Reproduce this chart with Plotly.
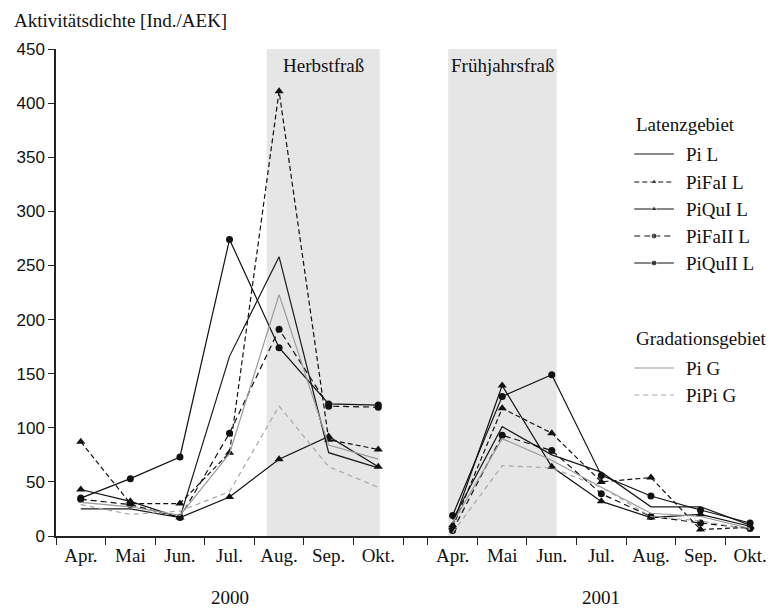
import plotly.graph_objects as go

# Monthly activity density, two seasons
months = ["Apr.", "Mai", "Jun.", "Jul.", "Aug.", "Sep.", "Okt."]
years = ["2000", "2001"]

pi_l_2000 = [25, 25, 17, 166, 258, 77, 63]
pifai_l_2000 = [87, 30, 30, 77, 411, 89, 80]
piqui_l_2000 = [43, 32, 17, 36, 71, 92, 64]
pifaii_l_2000 = [34, 29, 17, 95, 191, 120, 119]
piquii_l_2000 = [35, 53, 73, 274, 174, 122, 121]
pi_g_2000 = [31, 27, 19, 76, 223, 84, 71]
pipi_g_2000 = [29, 20, 23, 41, 120, 64, 45]

pi_l_2001 = [15, 101, 75, 59, 27, 27, 10]
pifai_l_2001 = [8, 118, 95, 50, 54, 6, 8]
piqui_l_2001 = [10, 139, 64, 32, 17, 20, 9]
pifaii_l_2001 = [5, 93, 79, 39, 18, 12, 7]
piquii_l_2001 = [19, 129, 149, 56, 37, 24, 12]
pi_g_2001 = [12, 90, 70, 45, 21, 18, 7]
pipi_g_2001 = [3, 65, 63, 45, 18, 14, 6]

series = [
    # name, 2000, 2001, color, dash, marker
    ("Pi L", pi_l_2000, pi_l_2001, "#1a1a1a", "solid", None),
    ("PiFaI L", pifai_l_2000, pifai_l_2001, "#111111", "5px,3px", "triangle-up"),
    ("PiQuI L", piqui_l_2000, piqui_l_2001, "#111111", "solid", "triangle-up"),
    ("PiFaII L", pifaii_l_2000, pifaii_l_2001, "#111111", "6px,4px", "circle"),
    ("PiQuII L", piquii_l_2000, piquii_l_2001, "#111111", "solid", "circle"),
    ("Pi G", pi_g_2000, pi_g_2001, "#9a9a9a", "solid", None),
    ("PiPi G", pipi_g_2000, pipi_g_2001, "#a8a8a8", "5px,4px", None),
]

SERIF = "Liberation Serif, Times New Roman, serif"
SANS = "Liberation Sans, Arial, sans-serif"

# category slots: 2000 at 0..6, 2001 shifted right after a gap
offset_2001 = 7.5
x2000 = list(range(len(months)))
x2001 = [i + offset_2001 for i in range(len(months))]
xrange_ = [-0.5, 13.7]

fig = go.Figure()

# shaded feeding periods
fig.add_shape(type="rect", xref="x", yref="y", x0=3.75, x1=6.03, y0=0, y1=453,
              fillcolor="#e6e6e6", line_width=0, layer="below")
fig.add_shape(type="rect", xref="x", yref="y", x0=7.41, x1=9.6, y0=0, y1=453,
              fillcolor="#e6e6e6", line_width=0, layer="below")

for name, v0, v1, color, dash, sym in series:
    for xs, ys in ((x2000, v0), (x2001, v1)):
        fig.add_trace(go.Scatter(
            x=xs, y=ys, mode="lines+markers" if sym else "lines",
            line=dict(color=color, width=1.2, dash=dash),
            marker=dict(symbol=sym or "circle", size=7 if sym == "circle" else 8,
                        color=color),
            showlegend=False, name=name, hoverinfo="skip"))

# legend drawn on a pixel-scaled overlay axis
legend_rows = [
    ("head", "Latenzgebiet", 124),
    ("item", 0, 154), ("item", 1, 182), ("item", 2, 209),
    ("item", 3, 236), ("item", 4, 263),
    ("head", "Gradationsgebiet", 338),
    ("item", 5, 368), ("item", 6, 395),
]
annotations = []
for kind, ref, ypix in legend_rows:
    if kind == "head":
        annotations.append(dict(xref="x2", yref="y2", x=640, y=ypix, text=ref,
                                showarrow=False, xanchor="left", yanchor="middle",
                                font=dict(family=SERIF, size=19, color="#111")))
    else:
        name, _, _, color, dash, sym = series[ref]
        fig.add_trace(go.Scatter(
            x=[640, 660, 680], y=[ypix] * 3, xaxis="x2", yaxis="y2",
            mode="lines+markers" if sym else "lines",
            line=dict(color=color, width=1.2, dash=dash),
            marker=dict(symbol=sym or "circle", size=[0, 6, 0], color=color),
            showlegend=False, hoverinfo="skip"))
        annotations.append(dict(xref="x2", yref="y2", x=690, y=ypix, text=name,
                                showarrow=False, xanchor="left", yanchor="middle",
                                font=dict(family=SERIF, size=19, color="#111")))

# period labels
annotations.append(dict(xref="x", yref="y", x=(3.75 + 6.03) / 2, y=435, text="Herbstfraß",
                        showarrow=False, font=dict(family=SERIF, size=19, color="#111")))
annotations.append(dict(xref="x", yref="y", x=(7.41 + 9.6) / 2, y=435, text="Frühjahrsfraß",
                        showarrow=False, font=dict(family=SERIF, size=19, color="#111")))

# year labels
for yr, xs in zip(years, (x2000, x2001)):
    annotations.append(dict(xref="x", yref="paper", x=(xs[0] + xs[-1]) / 2, y=-0.1253,
                            text=yr, showarrow=False, yanchor="middle",
                            font=dict(family=SERIF, size=19, color="#111")))

# axis title
annotations.append(dict(xref="paper", yref="paper", x=-0.0619, y=1.0595,
                        text="Aktivitätsdichte [Ind./AEK]", showarrow=False,
                        xanchor="left", yanchor="middle",
                        font=dict(family=SERIF, size=19, color="#111")))

tick_bounds = [i - 0.5 for i in range(len(months) + 1)] + [offset_2001 - 0.5 + i for i in range(len(months))]

fig.update_layout(
    width=775, height=608,
    margin=dict(l=56, r=8, t=49, b=72),
    paper_bgcolor="white", plot_bgcolor="white",
    showlegend=False,
    font=dict(family=SERIF, color="#111"),
    annotations=annotations,
    xaxis=dict(range=xrange_, tickvals=tick_bounds, ticks="outside", ticklen=7,
               tickcolor="#222", tickwidth=1.3, showticklabels=False,
               showline=True, linecolor="#222", linewidth=1.5,
               showgrid=False, zeroline=False),
    xaxis3=dict(range=xrange_, overlaying="x", anchor="y",
                tickvals=x2000 + x2001, ticktext=months + months,
                ticks="", showline=False, showgrid=False, zeroline=False,
                tickfont=dict(family=SERIF, size=19, color="#111"),
                ticklabelstandoff=6),
    yaxis=dict(range=[0, 450], dtick=50, ticks="outside", ticklen=6,
               tickcolor="#222", tickwidth=1.3,
               showline=True, linecolor="#222", linewidth=1.5,
               showgrid=False, zeroline=False,
               tickfont=dict(family=SANS, size=17, color="#111")),
    xaxis2=dict(range=[56, 767], overlaying="x", anchor="y2", visible=False),
    yaxis2=dict(range=[536, 49], overlaying="y", anchor="x2", visible=False),
)

# an invisible trace so the label axis is drawn
fig.add_trace(go.Scatter(x=[x2000[0]], y=[0], xaxis="x3", mode="markers",
                         marker=dict(opacity=0), showlegend=False, hoverinfo="skip"))

fig.write_html("out.html")
